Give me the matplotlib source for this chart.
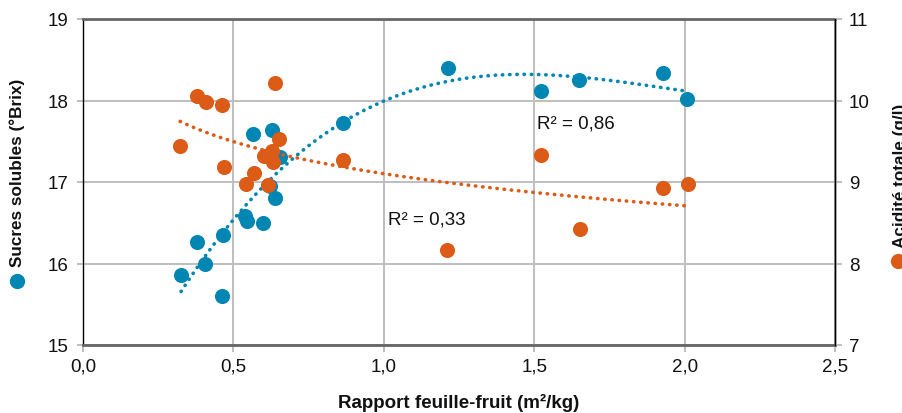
import matplotlib
matplotlib.use("Agg")
import matplotlib.pyplot as plt
from matplotlib.lines import Line2D
import numpy as np

plt.rcParams['font.family'] = ['Liberation Sans', 'DejaVu Sans']

# ---- data ----
x_sucres = [0.326, 0.379, 0.406, 0.466, 0.462, 0.540, 0.545, 0.599, 0.622, 0.566,
            0.629, 0.655, 0.639, 0.864, 1.212, 1.523, 1.650, 1.927, 2.008]
sucres = [15.86, 16.26, 15.99, 16.35, 15.60, 16.58, 16.52, 16.50, 16.95, 17.59,
          17.64, 17.31, 16.80, 17.73, 18.40, 18.12, 18.25, 18.34, 18.02]
x_acid = [0.323, 0.380, 0.408, 0.461, 0.470, 0.542, 0.567, 0.602, 0.616, 0.628,
          0.631, 0.639, 0.652, 0.864, 1.210, 1.523, 1.651, 1.927, 2.010]
acid = [9.44, 10.06, 9.98, 9.94, 9.19, 8.98, 9.11, 9.32, 8.96, 9.38,
        9.24, 10.22, 9.53, 9.27, 8.16, 9.33, 8.42, 8.93, 8.98]

x_ticks = [0.0, 0.5, 1.0, 1.5, 2.0, 2.5]
x_ticklabels = ["0,0", "0,5", "1,0", "1,5", "2,0", "2,5"]
y_left_ticks = [15, 16, 17, 18, 19]
y_right_ticks = [7, 8, 9, 10, 11]
r2_sucres = "R² = 0,86"
r2_acid = "R² = 0,33"
xlabel = "Rapport feuille-fruit (m²/kg)"
label_left = "Sucres solubles (°Brix)"
label_right = "Acidité totale (g/l)"

BLUE = "#0086B3"
ORANGE = "#DB5B17"
GRID = "#BEBEBE"
SPINE = "#666666"
TXT = "#111111"

fig = plt.figure(figsize=(9.03, 4.14), dpi=100)
ax = fig.add_axes([83/903, 1-346/414, (835-83)/903, (346-20)/414])
ax2 = ax.twinx()

# scatter
ax.scatter(x_sucres, sucres, s=118, color=BLUE, zorder=3, linewidths=0)
ax2.scatter(x_acid, acid, s=118, color=ORANGE, zorder=3, linewidths=0)

# trend lines (fitted from the data)
xs = np.array(x_sucres); ys = np.array(sucres)
cq = np.polyfit(xs, ys, 3)
xx = np.linspace(xs.min(), xs.max(), 300)
ax.plot(xx, np.polyval(cq, xx), color=BLUE, lw=2.6, linestyle=(0, (0.1, 1.9)),
        dash_capstyle='round', zorder=4)
xa = np.array(x_acid); ya = np.array(acid)
cl = np.polyfit(np.log(xa), ya, 1)
xx2 = np.linspace(xa.min(), xa.max(), 300)
ax2.plot(xx2, np.polyval(cl, np.log(xx2)), color=ORANGE, lw=2.6, linestyle=(0, (0.1, 1.9)),
         dash_capstyle='round', zorder=4)

# axes ranges / ticks
ax.set_xlim(0, 2.5)
ax.set_ylim(15, 19)
ax2.set_ylim(7, 11)
ax.set_xticks(x_ticks)
ax.set_xticklabels(x_ticklabels)
ax.set_yticks(y_left_ticks)
ax2.set_yticks(y_right_ticks)

ax.grid(True, color=GRID, lw=1.4, zorder=0)
ax.set_axisbelow(True)

for t in ax.get_xticklabels() + ax.get_yticklabels() + ax2.get_yticklabels():
    t.set_fontsize(13.5)
    t.set_color(TXT)

ax.tick_params(axis='x', direction='out', length=5, width=1.4, color=GRID, pad=4)
ax.tick_params(axis='y', direction='out', length=4.5, width=1.4, color=GRID, pad=6)
ax2.tick_params(axis='y', direction='out', length=5, width=1.4, color=GRID, pad=5)

ax.spines['top'].set_color(SPINE); ax.spines['top'].set_linewidth(2)
ax.spines['bottom'].set_color(SPINE); ax.spines['bottom'].set_linewidth(2)
ax.spines['left'].set_color('black'); ax.spines['left'].set_linewidth(1)
ax.spines['right'].set_color('black'); ax.spines['right'].set_linewidth(1)
for s in ['top', 'bottom', 'left']:
    ax2.spines[s].set_visible(False)
ax2.spines['right'].set_color('black'); ax2.spines['right'].set_linewidth(1)

# R² annotations
ax.text(1.51, 17.72, r2_sucres, fontsize=13.5, va='center', ha='left', color=TXT)
ax.text(1.015, 16.55, r2_acid, fontsize=13.5, va='center', ha='left', color=TXT)

# axis labels
fig.text(459/903, 1-403/414, xlabel, ha='center', va='center', fontsize=13.5,
         fontweight='bold', color=TXT)
fig.text(17/903, 1-267/414, label_left, rotation=90, ha='center', va='bottom',
         fontsize=12.3, fontweight='bold', color=TXT)
fig.add_artist(Line2D([17/903], [1-282/414], marker='o', markersize=11, color=BLUE,
                      markeredgewidth=0, transform=fig.transFigure))
fig.text(901/903, 1-248/414, label_right, rotation=90, ha='center', va='bottom',
         fontsize=12.3, fontweight='bold', color=TXT)
fig.add_artist(Line2D([898/903], [1-262/414], marker='o', markersize=11, color=ORANGE,
                      markeredgewidth=0, transform=fig.transFigure))

fig.savefig("out.png", dpi=100)
